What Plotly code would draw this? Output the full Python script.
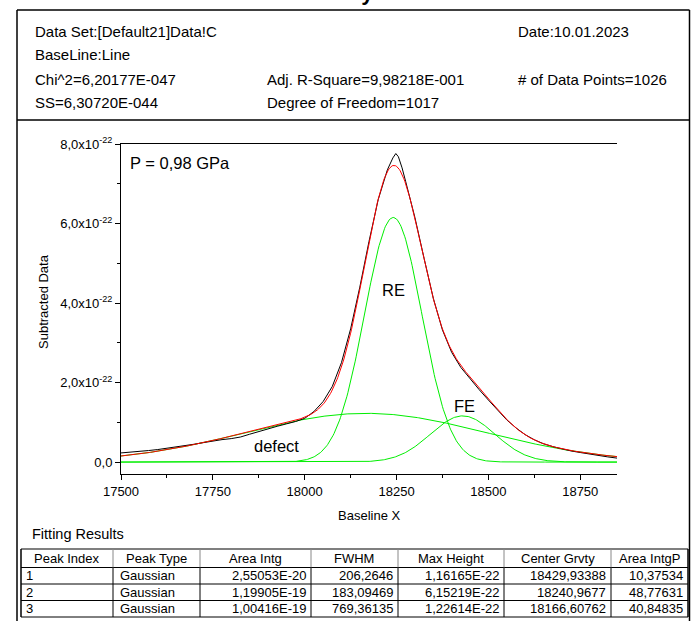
import numpy as np
import plotly.graph_objects as go

W, H = 691, 621
FONT = "Arial, Liberation Sans, sans-serif"

# ---------------- data ----------------
title = "Peak Analysis"
header_col1 = ["Data Set:[Default21]Data!C", "BaseLine:Line", "Chi^2=6,20177E-047", "SS=6,30720E-044"]
header_col2 = ["", "", "Adj. R-Square=9,98218E-001", "Degree of Freedom=1017"]
header_col3 = ["Date:10.01.2023", "", "# of Data Points=1026", ""]

data_x = [17500, 17525, 17550, 17575, 17600, 17625, 17650, 17675, 17700, 17725,
          17750, 17775, 17800, 17825, 17850, 17875, 17900, 17925, 17950, 17975,
          18000, 18025, 18050, 18075, 18100, 18125, 18150, 18175, 18200, 18225,
          18240, 18248, 18255, 18265, 18275, 18300, 18325, 18350, 18375, 18400,
          18425, 18450, 18475, 18500, 18525, 18550, 18575, 18600, 18625, 18650,
          18675, 18700, 18725, 18750, 18775, 18800, 18825, 18850]
data_y = [0.23, 0.245, 0.27, 0.29, 0.315, 0.345, 0.375, 0.41, 0.45, 0.49,
          0.53, 0.565, 0.59, 0.63, 0.70, 0.77, 0.84, 0.90, 0.96, 1.02,
          1.10, 1.27, 1.52, 1.90, 2.50, 3.35, 4.40, 5.55, 6.60, 7.35,
          7.65, 7.76, 7.68, 7.40, 7.05, 6.15, 5.12, 4.12, 3.32, 2.76,
          2.38, 2.09, 1.82, 1.56, 1.30, 1.06, 0.86, 0.69, 0.56, 0.46,
          0.39, 0.33, 0.28, 0.24, 0.20, 0.16, 0.13, 0.10]
data_scale = 1e-22

# fitting results table
tbl_header = ["Peak Index", "Peak Type", "Area Intg", "FWHM", "Max Height", "Center Grvty", "Area IntgP"]
peak_index = ["1", "2", "3"]
peak_type = ["Gaussian", "Gaussian", "Gaussian"]
area_intg = ["2,55053E-20", "1,19905E-19", "1,00416E-19"]
fwhm = ["206,2646", "183,09469", "769,36135"]
max_height = ["1,16165E-22", "6,15219E-22", "1,22614E-22"]
center_grvty = ["18429,93388", "18240,9677", "18166,60762"]
area_intgp = ["10,37534", "48,77631", "40,84835"]

peak_labels = ["FE", "RE", "defect"]
pressure_label = "P = 0,98 GPa"

x_ticks = [17500, 17750, 18000, 18250, 18500, 18750]
y_tickvals = [0, 2e-22, 4e-22, 6e-22, 8e-22]
y_ticktext = ["0,0", "2,0x10<sup>-22</sup>", "4,0x10<sup>-22</sup>",
              "6,0x10<sup>-22</sup>", "8,0x10<sup>-22</sup>"]

# ---------------- model curves from fit parameters ----------------
def num(s):
    return float(s.replace(",", "."))

xg = np.linspace(17500, 18850, 541)
peaks = []
for c, w, h in zip(center_grvty, fwhm, max_height):
    sig = num(w) / (2 * np.sqrt(2 * np.log(2)))
    peaks.append(num(h) * np.exp(-0.5 * ((xg - num(c)) / sig) ** 2))
cum = np.sum(peaks, axis=0)

def PX(x):
    return x / W

def PY(y):
    return 1 - y / H

fig = go.Figure()
for p in peaks:
    fig.add_trace(go.Scatter(x=xg, y=p, mode="lines", line=dict(color="#00ee00", width=1), hoverinfo="skip"))
fig.add_trace(go.Scatter(x=data_x, y=[v * data_scale for v in data_y], mode="lines",
                         line=dict(color="black", width=1), hoverinfo="skip"))
fig.add_trace(go.Scatter(x=xg, y=cum, mode="lines", line=dict(color="#ff0000", width=1), hoverinfo="skip"))

ylo, yhi = -0.30e-22, 8.0e-22
axis_font = dict(family=FONT, size=13, color="black")
minor_y = [1e-22, 3e-22, 5e-22, 7e-22]
fig.update_layout(
    width=W, height=H, margin=dict(l=0, r=0, t=0, b=0, autoexpand=False),
    paper_bgcolor="white", plot_bgcolor="white", showlegend=False,
    xaxis=dict(domain=[PX(121), PX(617)], range=[17500, 18850], tickvals=x_ticks,
               ticktext=[str(v) for v in x_ticks], ticks="outside", ticklen=5, tickwidth=1,
               tickcolor="black", showline=True, linecolor="black", linewidth=1, mirror=True,
               showgrid=False, zeroline=False, tickfont=axis_font, automargin=False,
               minor=dict(tickvals=[v + 125 for v in x_ticks], ticks="outside", ticklen=3, tickcolor="black")),
    yaxis=dict(domain=[PY(474), PY(144)], range=[ylo, yhi], tickvals=y_tickvals, ticktext=y_ticktext,
               ticks="outside", ticklen=5, tickwidth=1, tickcolor="black", showline=True,
               linecolor="black", linewidth=1, showgrid=False, zeroline=False, tickfont=axis_font,
               automargin=False,
               minor=dict(tickvals=minor_y, ticks="outside", ticklen=3, tickcolor="black")),
    yaxis2=dict(overlaying="y", side="right", anchor="x", range=[ylo, yhi], tickvals=y_tickvals,
                showticklabels=False, ticks="inside", ticklen=5, tickcolor="black", showline=True,
                linecolor="black", linewidth=1, showgrid=False, zeroline=False, automargin=False,
                minor=dict(tickvals=minor_y, ticks="inside", ticklen=3, tickcolor="black")),
)

shapes = []
def hline(x0, x1, y, color="black", width=1.5):
    shapes.append(dict(type="line", xref="paper", yref="paper", x0=PX(x0), x1=PX(x1), y0=PY(y), y1=PY(y),
                       line=dict(color=color, width=width)))

def vline(x, y0, y1, color="black", width=1.5):
    shapes.append(dict(type="line", xref="paper", yref="paper", x0=PX(x), x1=PX(x), y0=PY(y0), y1=PY(y1),
                       line=dict(color=color, width=width)))

# outer frame
hline(17, 689.5, 10)
vline(17, 10, 625)
vline(689.5, 10, 625)
hline(17, 689.5, 120)

# table grid
col_edges = [21, 113, 200, 311, 398, 504, 611, 688]
row_edges = [549, 567.5, 584, 600.5, 617]
hline(21, 688, row_edges[0], width=1.2)
for ry in row_edges[1:]:
    hline(21, 688, ry, width=1)
vline(col_edges[0], row_edges[0], row_edges[-1], width=1.5)
vline(col_edges[-1], row_edges[0], row_edges[-1], width=1.5)
for cx in col_edges[1:-1]:
    vline(cx, row_edges[0], row_edges[1], color="#888888", width=1)
    vline(cx, row_edges[1], row_edges[-1], color="black", width=1)
fig.update_layout(shapes=shapes)

ann = []
def text(t, x, y, size, xanchor="left", ref="paper"):
    if ref == "paper":
        ann.append(dict(text=t, xref="paper", yref="paper", x=PX(x), y=PY(y), xanchor=xanchor,
                        yanchor="middle", showarrow=False, font=dict(family=FONT, size=size, color="black")))
    else:
        ann.append(dict(text=t, xref="x", yref="y", x=x, y=y, xanchor=xanchor,
                        yanchor="middle", showarrow=False, font=dict(family=FONT, size=size, color="black")))

ann.append(dict(text="<b>" + title + "</b>", xref="paper", yref="paper", x=PX(330), y=PY(-7),
                xanchor="center", yanchor="middle", showarrow=False,
                font=dict(family=FONT, size=22, color="black")))
rows_y = [31, 55, 79, 103]
for col, xp in ((header_col1, 33), (header_col2, 265), (header_col3, 516)):
    for t, yp in zip(col, rows_y):
        if t:
            text(t, xp, yp, 15)
text("Fitting Results", 30, 534, 14.5)

# axis titles
text("Baseline X", 369, 515, 13, xanchor="center")
ann.append(dict(text="Subtracted Data", xref="paper", yref="paper", x=PX(44), y=PY(301), textangle=-90,
                xanchor="center", yanchor="middle", showarrow=False,
                font=dict(family=FONT, size=13, color="black")))

text(pressure_label, 17519, 7.51e-22, 16.5, ref="data")
lab_pos = {"FE": (18435, 1.41e-22), "RE": (18241, 4.33e-22), "defect": (17924, 0.40e-22)}
for lab in peak_labels:
    x0, y0 = lab_pos[lab]
    text(lab, x0, y0, 16.5, xanchor="center", ref="data")

# table texts
TS = 13
for i, h in enumerate(tbl_header):
    text(h, (col_edges[i] + col_edges[i + 1]) / 2, (row_edges[0] + row_edges[1]) / 2, TS, xanchor="center")
cols = [peak_index, peak_type, area_intg, fwhm, max_height, center_grvty, area_intgp]
for ci, col in enumerate(cols):
    for ri, v in enumerate(col):
        yc = (row_edges[ri + 1] + row_edges[ri + 2]) / 2
        if ci == 0:
            text(v, col_edges[0] + 3, yc, TS)
        elif ci == 1:
            text(v, col_edges[1] + 5, yc, TS)
        else:
            text(v, col_edges[ci + 1] - 3, yc, TS, xanchor="right")
fig.update_layout(annotations=ann)

fig.write_html("out.html")
